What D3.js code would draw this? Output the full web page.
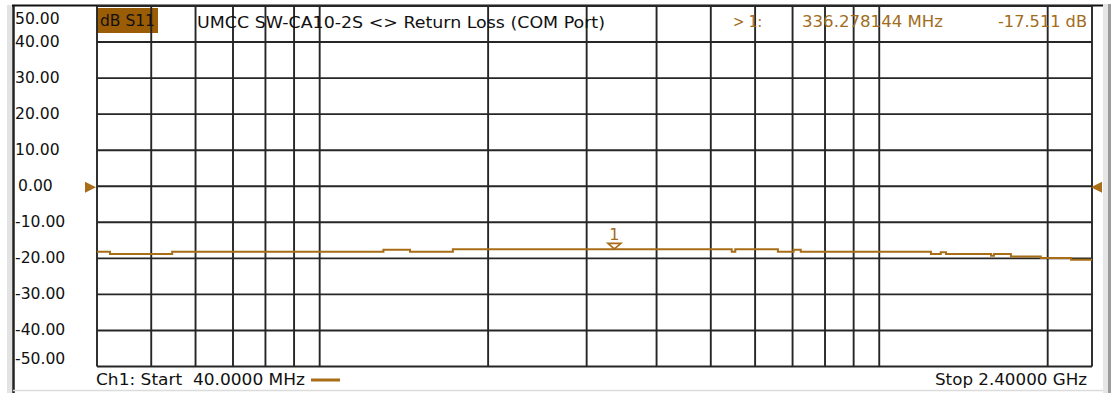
<!DOCTYPE html>
<html><head><meta charset="utf-8">
<script src="https://cdn.jsdelivr.net/npm/d3@7"></script>
<style>html,body{margin:0;padding:0;background:#fff}svg{display:block}text{white-space:pre}</style>
</head><body>
<svg id="chart" width="1118" height="393"></svg>
<script>
// ---- data ----
const startMHz = 40, stopMHz = 2400;
const freqGridMHz = [50, 60, 70, 80, 90, 100, 200, 300, 400, 500, 600, 700, 800, 900, 1000, 2000];
const yTicks = [50, 40, 30, 20, 10, 0, -10, -20, -30, -40, -50];
const yTickLabels = ["50.00", "40.00", "30.00", "20.00", "10.00", "0.00", "-10.00", "-20.00", "-30.00", "-40.00", "-50.00"];
const traceFreqMHz = [40, 42.2, 54.5, 130, 145, 173, 545, 553, 659, 703, 724, 1237, 1288, 1316, 1584, 1603, 1719, 1944, 2202, 2400];
const traceDb = [-18.2, -18.8, -18.2, -17.6, -18.2, -17.5, -18.2, -17.5, -18.2, -17.6, -18.2, -18.8, -18.3, -18.8, -19.3, -18.8, -19.5, -19.9, -20.4, -20.4];
const markerFreqMHz = 336.278144;
const markerDb = -17.511;
const refLevel = 0;
const titleText = "UMCC SW-CA10-2S <> Return Loss (COM Port)";
const measText = "dB S11";
const markerReadout = ["> 1:", "336.278144 MHz", "-17.511 dB"];
const startText = "Ch1: Start  40.0000 MHz";
const stopText = "Stop 2.40000 GHz";

// ---- drawing ----
const svg = d3.select("#chart");
const brown = "#a86d16";
const textBrown = "#a26c1c";
const gridCol = "#262626";
const font = "'DejaVu Sans', Verdana, sans-serif";

const x = d3.scaleLog().domain([startMHz, stopMHz]).range([97, 1092]);
const y = d3.scaleLinear().domain([50, -50]).range([6, 366.5]);

// window chrome
svg.append("rect").attr("x", 7).attr("y", 5).attr("width", 5).attr("height", 388).attr("fill", "#e3e3e3");
svg.append("line").attr("x1", 13.5).attr("x2", 13.5).attr("y1", 5).attr("y2", 393).attr("stroke", "#222").attr("stroke-width", 2.5);
svg.append("line").attr("x1", 13).attr("x2", 1103).attr("y1", 390.5).attr("y2", 390.5).attr("stroke", "#dcdcdc").attr("stroke-width", 1.5);
svg.append("rect").attr("x", 1103).attr("y", 4).attr("width", 5).attr("height", 389).attr("fill", "#e6e6e6");
svg.append("rect").attr("x", 1108).attr("y", 4).attr("width", 3).attr("height", 389).attr("fill", "#9c9c9c");
svg.append("line").attr("x1", 12).attr("x2", 1103).attr("y1", 5.5).attr("y2", 5.5).attr("stroke", "#111").attr("stroke-width", 2);

// measurement label box
svg.append("rect").attr("x", 97).attr("y", 8).attr("width", 61).attr("height", 25).attr("fill", "#9b5c06");

// grid
const grid = svg.append("g").attr("stroke", gridCol).attr("stroke-width", 1.9).attr("fill", "none");
grid.selectAll("line.h").data(yTicks).join("line").attr("class", "h")
  .attr("x1", x(startMHz)).attr("x2", x(stopMHz))
  .attr("y1", d => y(d)).attr("y2", d => y(d));
grid.selectAll("line.v").data([startMHz, ...freqGridMHz, stopMHz]).join("line").attr("class", "v")
  .attr("x1", d => x(d)).attr("x2", d => x(d))
  .attr("y1", y(50)).attr("y2", y(-50));

function fitText(str, x0, yc, w, size, color, anchor) {
  const t = svg.append("text").attr("x", x0).attr("y", yc)
    .attr("dominant-baseline", "central")
    .attr("font-family", font).attr("font-size", size).attr("fill", color)
    .attr("text-anchor", anchor || "start").text(str);
  if (w) t.attr("textLength", w).attr("lengthAdjust", "spacingAndGlyphs");
  return t;
}

// y labels
yTicks.forEach((v, i) => {
  const yc = Math.min(Math.max(y(v), 19), 359);
  fitText(yTickLabels[i], v === 0 ? 18 : 15, yc, null, 15.6, "#111");
});

// header texts
fitText(measText, 100, 21, 55, 15, "#111");
fitText(titleText, 197, 23, 408, 15.4, "#111");
fitText(markerReadout[0], 733, 22, 29, 15, textBrown);
fitText(markerReadout[1], 802, 22, 141, 15, textBrown);
fitText(markerReadout[2], 998, 22, 89, 15, textBrown);

// footer texts
fitText(startText, 96, 380, 209, 15, "#111");
svg.append("line").attr("x1", 311).attr("x2", 340).attr("y1", 380).attr("y2", 380).attr("stroke", brown).attr("stroke-width", 3);
fitText(stopText, 1087, 380, 152, 15, "#111", "end");

// reference level arrows
const yr = y(refLevel) + 1;
svg.append("path").attr("d", `M85,${yr - 5.5} L96,${yr} L85,${yr + 5.5} Z`).attr("fill", brown);
svg.append("path").attr("d", `M1102,${yr - 5.5} L1091,${yr} L1102,${yr + 5.5} Z`).attr("fill", brown);

// trace
const traceData = traceFreqMHz.map((f, i) => ({ f, v: traceDb[i] }));
const line = d3.line().curve(d3.curveStepAfter).x(d => x(d.f)).y(d => y(d.v));
svg.append("path").datum(traceData).attr("d", line)
  .attr("fill", "none").attr("stroke", brown).attr("stroke-width", 2);

// marker
const mx = x(markerFreqMHz), my = y(markerDb);
svg.append("path").attr("d", `M${mx - 6.5},${my - 6} H${mx + 6.5} L${mx},${my - 0.5} Z`)
  .attr("fill", "#fff").attr("stroke", brown).attr("stroke-width", 1.6);
fitText("1", mx, my - 15, null, 16, textBrown, "middle");
</script>
</body></html>
